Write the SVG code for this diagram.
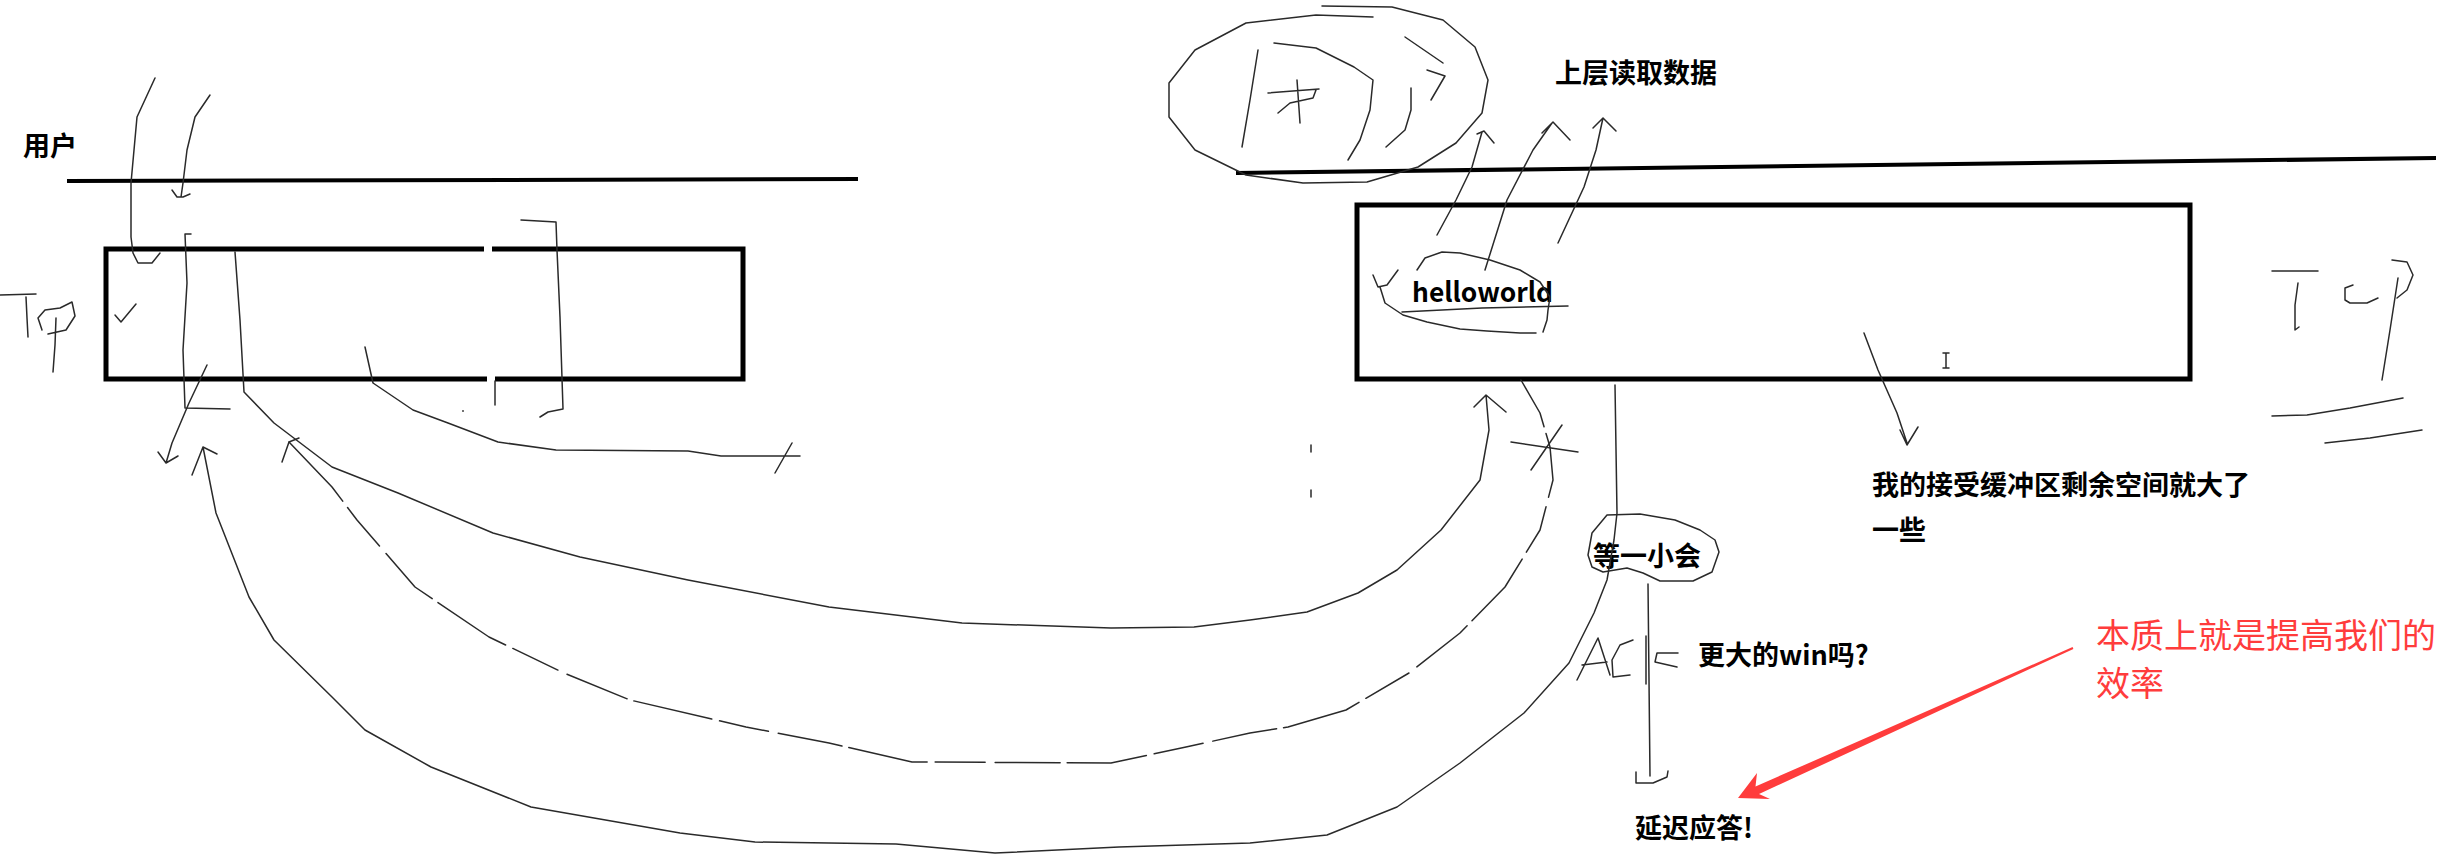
<svg xmlns="http://www.w3.org/2000/svg" width="2453" height="859" viewBox="0 0 2453 859">
<style>
.hand{fill:none;stroke:#2a2a2a;stroke-width:1.5;stroke-linecap:round;stroke-linejoin:round}
.dash{stroke-dasharray:80 8 50 10 65 7}
.thick{fill:none;stroke:#000;stroke-width:4;stroke-linecap:butt}
.box{fill:none;stroke:#000;stroke-width:5;stroke-linejoin:miter}
.lbl{font-family:"Noto Sans CJK SC","Liberation Sans",sans-serif;font-weight:700;font-size:27px;fill:#000}
.red{font-family:"Noto Sans CJK SC","Liberation Sans",sans-serif;font-weight:400;font-size:34px;fill:#ff3c3c}
</style>
<rect width="2453" height="859" fill="#fff"/>

<g id="user-layer-left">
<text class="lbl" x="23" y="156" font-size="26">用户</text>
<line class="thick" x1="67" y1="181" x2="858" y2="179"/>
</g>

<g id="tcp-left">
<path class="hand" d="M0,295 L36,294 M26,297 L27,318 L28,337"/>
<path class="hand" d="M42,330 L38,318 L45,310 L60,308 L72,302 L75,316 L66,330 L48,334 M56,318 L55,345 L53,372"/>
</g>

<g id="left-box">
<path class="box" d="M484,249 H106 V379 H487 M495,379 H743 V249 H492"/>
<path class="hand" d="M115,315 L121,322 L136,304"/>
<path class="hand" d="M185,234 L191,234 M185,234 L187,283 L183,350 L185,408 L230,409"/>
<path class="hand" d="M521,220 L556,222 L557,250 L560,317 L563,409 L548,412 L540,417"/>
<path class="hand" d="M495,381 V405"/>
<circle cx="463" cy="411" r="1" fill="#444"/>
</g>

<g id="user-layer-right">
<line class="thick" x1="1236" y1="173" x2="2436" y2="158"/>
<text class="lbl" x="1555" y="83">上层读取数据</text>
</g>

<g id="app-circle">
<path class="hand" d="M1322,6 L1392,7 L1443,20 L1475,47 L1488,80 L1482,113 L1456,143 L1418,167 L1367,182 L1303,183 L1246,175 L1195,150 L1169,117 L1169,83 L1195,50 L1246,23 L1316,15 L1373,17"/>
<path class="hand" d="M1258,50 L1250,100 L1242,147"/>
<path class="hand" d="M1274,43 L1316,48 L1354,67 L1373,80 L1370,110 L1360,140 L1348,160"/>
<path class="hand" d="M1268,93 L1319,89 M1297,80 L1300,123 M1278,113 L1290,103 L1313,98 L1316,90"/>
<path class="hand" d="M1405,37 L1443,63 M1427,70 L1445,76 L1431,100 M1411,88 L1411,110 L1405,130 L1386,147"/>
</g>

<g id="right-box">
<rect class="box" x="1357" y="205" width="833" height="174"/>
<text class="lbl" x="1412" y="302" font-size="31" textLength="141" lengthAdjust="spacingAndGlyphs">helloworld</text>
<path class="hand" d="M1417,270 L1425,258 L1442,252 L1460,253 L1490,260 L1520,270 L1540,282 L1550,297 L1548,310 L1547,320 L1543,332"/>
<path class="hand" d="M1380,287 L1385,303 L1403,315 L1427,322 L1460,329 L1487,331 L1520,333 L1536,333"/>
<path class="hand" d="M1402,312 L1482,308 L1568,306"/>
<path class="hand" d="M1373,275 L1378,287 L1387,285 L1398,270"/>
<path class="hand" d="M1943,353 H1949 M1946,353 V368 M1943,368 H1949"/>
</g>

<g id="tcp-right">
<path class="hand" d="M2272,271 L2318,271 M2298,283 L2295,305 L2295,330 L2299,327"/>
<path class="hand" d="M2353,285 L2345,288 L2345,300 L2350,303 L2367,303 L2378,298"/>
<path class="hand" d="M2392,260 L2407,262 L2413,275 L2407,290 L2397,298 M2398,278 L2390,330 L2382,380"/>
<path class="hand" d="M2272,416 L2307,415 L2350,408 L2403,398 M2325,443 L2370,438 L2422,430"/>
</g>

<g id="labels">
<text class="lbl" x="1872" y="495">我的接受缓冲区剩余空间就大了</text>
<text class="lbl" x="1872" y="540">一些</text>
<text class="lbl" x="1593" y="566">等一小会</text>
<path class="hand" d="M1607,515 L1640,514 L1675,520 L1700,530 L1715,540 L1719,552 L1712,572 L1693,581 L1660,581 L1643,573 L1627,568 L1603,572 L1592,567 L1588,555 L1592,533 Z"/>
<text class="lbl" x="1698" y="665">更大的win吗?</text>
<path class="hand" d="M1577,680 L1598,638 L1610,675 M1582,665 L1607,662"/>
<path class="hand" d="M1633,640 L1620,645 L1612,660 L1613,677 L1630,675"/>
<path class="hand" d="M1646,636 V684 M1678,653 L1657,653 L1655,662 L1677,667"/>
<text class="lbl" x="1635" y="838">延迟应答!</text>
<text class="red" x="2096" y="648">本质上就是提高我们的</text>
<text class="red" x="2096" y="696">效率</text>
</g>

<g id="connectors">
<path class="hand" d="M155,78 L137,117 L131,183 L131,237 L133,253 L138,263 L152,263 L160,253"/>
<path class="hand" d="M210,95 L195,117 L187,150 L183,183 L181,197 M172,190 L177,197 L183,197 L190,194"/>
<path class="hand" d="M207,365 L189,403 L172,443 L166,463 M158,452 L166,463 L178,456"/>
<path class="hand" d="M365,347 L373,383 L413,410 L448,423 L498,442 L556,450 L688,451 L721,456 L800,456 M792,443 L775,473"/>
<path class="hand" d="M235,252 L240,320 L244,392 L274,423 L332,467 L398,493 L493,533 L580,557 L688,580 L829,607 L962,623 L1111,628 L1194,627 L1250,620 L1307,612 L1358,593 L1397,570 L1441,530 L1480,480 L1489,430 L1486,395 M1474,407 L1486,395 L1506,412"/>
<path class="hand dash" d="M289,442 L332,487 L357,520 L415,587 L489,637 L564,673 L630,700 L746,727 L829,743 L912,762 L1111,763 L1186,747 L1250,733 L1288,727 L1346,710 L1409,673 L1460,633 L1505,587 L1540,530 L1553,480 L1550,447 L1540,413 L1521,380"/>
<path class="hand" d="M282,462 L289,442 L299,438"/>
<path class="hand" d="M1511,442 L1578,452 M1562,425 L1531,470"/>
<path class="hand" d="M203,447 L216,513 L249,597 L274,640 L332,697 L365,730 L431,767 L531,807 L680,833 L755,842 L896,844 L995,853 L1119,847 L1250,843 L1327,835 L1397,807 L1460,763 L1524,713 L1569,663 L1594,613 L1607,580 L1614,540 L1617,513 L1615,385 M192,475 L203,447 L217,454"/>
<path class="hand" d="M1437,235 L1456,200 L1472,167 L1482,132 M1477,134 L1484,131 L1494,143"/>
<path class="hand" d="M1485,270 L1507,200 L1533,150 L1552,123 M1542,133 L1553,122 L1570,140"/>
<path class="hand" d="M1558,243 L1584,187 L1596,150 L1603,118 M1593,128 L1603,118 L1616,131"/>
<path class="hand" d="M1864,333 L1878,370 L1897,413 L1907,443 M1900,430 L1907,445 L1918,427"/>
<path class="hand" d="M1311,445 V452 M1311,490 V497"/>
<path class="hand" d="M1648,584 L1650,776 M1636,772 L1636,783 L1653,783 L1667,777 L1668,771"/>
<polygon fill="#ff3c3c" points="1738,798 1770,799 1759,794 2073.4,648.9 2072.6,647.1 1755.5,786.5 1757,773"/>
</g>
</svg>
